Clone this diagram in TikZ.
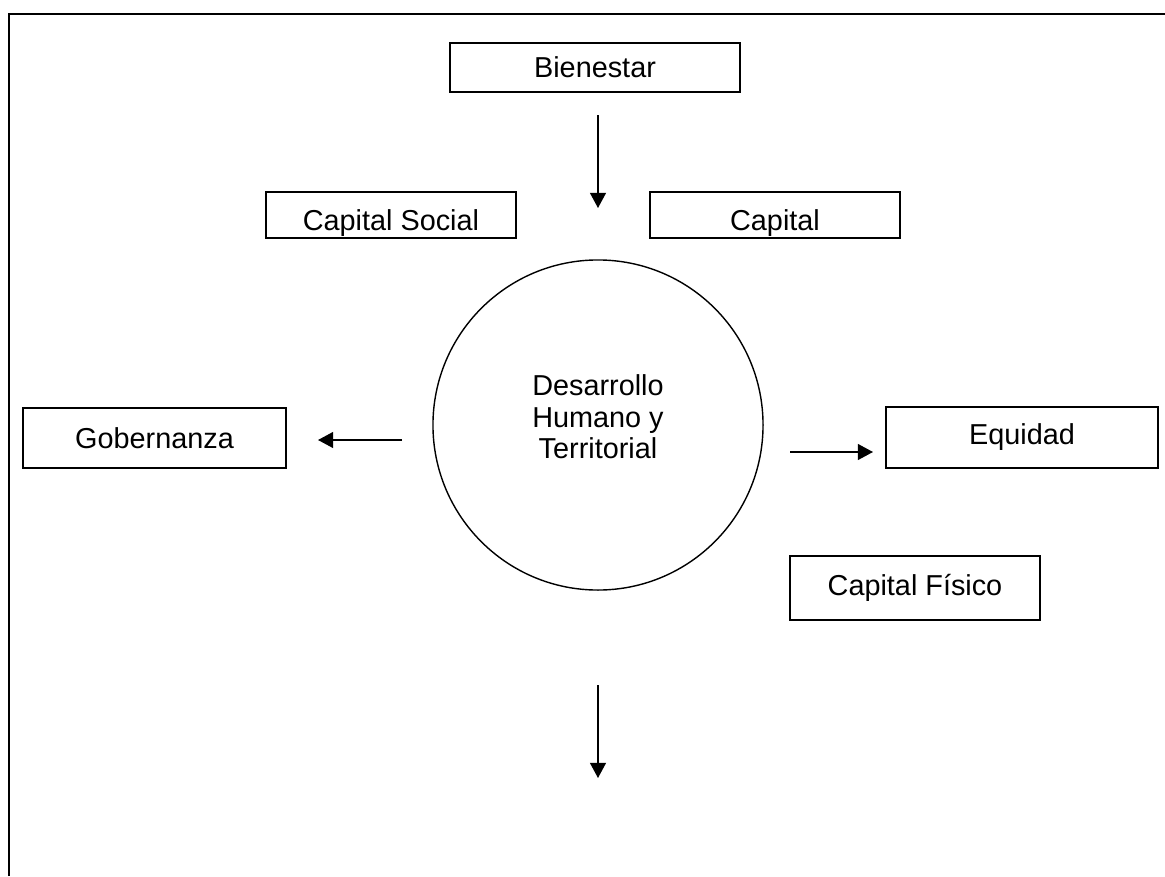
\documentclass[tikz,border=0pt]{standalone}
\usepackage{fontspec}
\setmainfont{Liberation Sans}
\usetikzlibrary{arrows.meta, positioning}

\tikzset{
  frame/.style={line width=1.7pt},
  box/.style={rectangle, draw, line width=1.1pt, inner sep=0pt, align=center,
    font=\fontsize{20.5}{22.4}\selectfont},
  lowbox/.style={box, text height=0.95cm, text depth=0.2cm},
  hub/.style={circle, draw, line width=1pt, inner sep=0pt, align=center,
    minimum size=8.25cm, text depth=0.4cm, font=\fontsize{20.5}{22.4}\selectfont},
  flow/.style={draw, line width=1pt, -{Triangle[length=0.38cm, width=0.4cm]}}
}

\begin{document}
\begin{tikzpicture}[x=0.025cm, y=-0.025cm]
\useasboundingbox (0,0) rectangle (1165,876);
\draw[frame] (9,876) -- (9,14) -- (1165,14);

\node[box, minimum width=7.25cm, minimum height=1.225cm] (bien) at (595,67.5) {Bienestar};
\node[lowbox, minimum width=6.25cm] (csoc) at (391,215) {Capital Social};
\node[lowbox, minimum width=6.25cm] (cap) at (775,215) {Capital};
\node[hub] (dht) at (598,425) {Desarrollo\\Humano y\\Territorial};
\node[box, minimum width=6.575cm, minimum height=1.5cm] (gob) at (154.5,438) {Gobernanza};
\node[box, minimum width=6.8cm, minimum height=1.525cm] (equi) at (1022,437.5) {Equidad};
\node[box, minimum width=6.25cm, minimum height=1.6cm] (cfis) at (915,588) {Capital Físico};

\coordinate (a1) at (598,115);
\coordinate (a2) at (598,208);
\coordinate (l1) at (402,440);
\coordinate (l2) at (318,440);
\coordinate (r1) at (790,452);
\coordinate (r2) at (873,452);
\coordinate (b1) at (598,685);
\coordinate (b2) at (598,778);

\draw[flow] (a1) -- (a2);
\draw[flow] (l1) -- (l2);
\draw[flow] (r1) -- (r2);
\draw[flow] (b1) -- (b2);
\end{tikzpicture}
\end{document}
